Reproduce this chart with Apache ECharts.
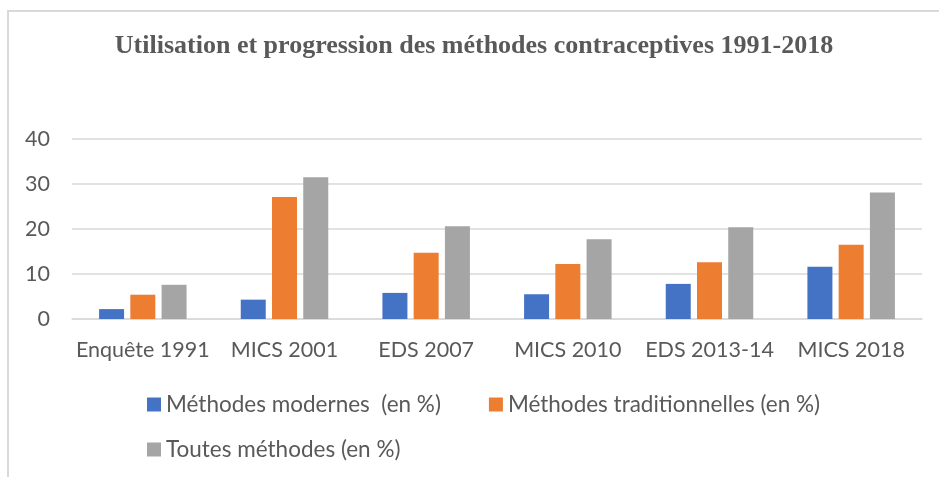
<!DOCTYPE html>
<html>
<head>
<meta charset="utf-8">
<script src="https://cdn.jsdelivr.net/npm/echarts@6/dist/echarts.min.js"></script>
<style>
  html, body { margin: 0; padding: 0; background: #fff; }
  #main { width: 939px; height: 477px; }
</style>
</head>
<body>
<div id="main"></div>
<script>
const categories = ['Enquête 1991', 'MICS 2001', 'EDS 2007', 'MICS 2010', 'EDS 2013-14', 'MICS 2018']
const seriesNames = ['Méthodes modernes  (en %)', 'Méthodes traditionnelles (en %)', 'Toutes méthodes (en %)']
const modernes = [2.2, 4.3, 5.8, 5.5, 7.8, 11.6]
const traditionnelles = [5.4, 27.1, 14.7, 12.2, 12.6, 16.5]
const toutes = [7.6, 31.5, 20.6, 17.7, 20.4, 28.1]
const yTicks = [0, 10, 20, 30, 40]

const colors = ['#4472C4', '#ED7D31', '#A5A5A5']
const textColor = '#595959'
const font = 'Lato'

const myChart = echarts.init(document.getElementById('main'))

const legendStyle = {
    orient: 'horizontal',
    icon: 'rect',
    padding: 0,
    itemWidth: 14,
    itemHeight: 14,
    itemGap: 48,
    textStyle: {
        color: textColor,
        fontSize: 22.5,
        fontFamily: font,
    },
}

const option = {
    animation: false,
    color: colors,
    graphic: [
        {
            type: 'rect',
            shape: { x: 8, y: 11, width: 940, height: 480 },
            style: { fill: 'none', stroke: '#d9d9d9', lineWidth: 2 },
            silent: true,
        },
    ],
    title: {
        text: 'Utilisation et progression des méthodes contraceptives 1991-2018',
        left: 474,
        textAlign: 'center',
        top: 33,
        padding: 0,
        textStyle: {
            fontFamily: 'Liberation Serif',
            fontWeight: 'bold',
            fontSize: 26,
            color: textColor,
        },
    },
    legend: [
        Object.assign({ left: 147, top: 393, data: seriesNames.slice(0, 2) }, legendStyle),
        Object.assign({ left: 147, top: 438, data: seriesNames.slice(2) }, legendStyle),
    ],
    grid: {
        left: 72,
        right: 17,
        top: 139,
        bottom: 158,
    },
    xAxis: {
        type: 'category',
        data: categories,
        axisTick: { show: false },
        axisLine: {
            lineStyle: { color: '#d9d9d9', width: 1.5 },
        },
        axisLabel: {
            interval: 0,
            color: textColor,
            fontSize: 21.5,
            fontFamily: font,
            margin: 20,
        },
    },
    yAxis: {
        type: 'value',
        min: yTicks[0],
        max: yTicks[yTicks.length - 1],
        interval: 10,
        axisLine: { show: false },
        axisTick: { show: false },
        axisLabel: {
            color: textColor,
            fontSize: 21.5,
            fontFamily: font,
            margin: 22,
        },
        splitLine: {
            lineStyle: { color: '#d9d9d9', width: 1.5 },
        },
    },
    series: [
        { name: seriesNames[0], type: 'bar', data: modernes, barWidth: 25, barGap: '25%' },
        { name: seriesNames[1], type: 'bar', data: traditionnelles, barWidth: 25, barGap: '25%' },
        { name: seriesNames[2], type: 'bar', data: toutes, barWidth: 25, barGap: '25%' },
    ],
}

myChart.setOption(option)
</script>
</body>
</html>
